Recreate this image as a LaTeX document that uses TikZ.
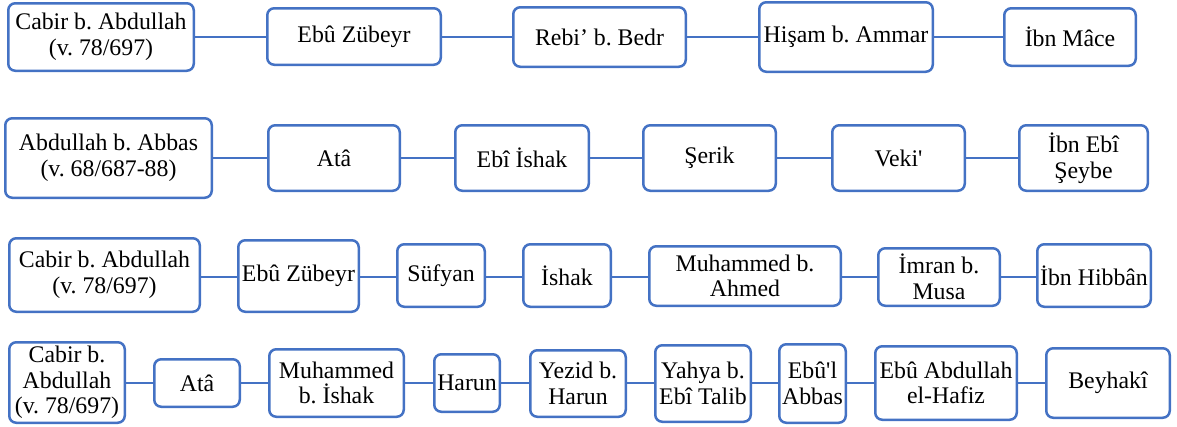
\documentclass[tikz,border=0pt]{standalone}
\usepackage{fontspec}
\setmainfont{Liberation Serif}[Ligatures=TeXOff]
\usetikzlibrary{backgrounds}
\definecolor{boxblue}{RGB}{68,114,196}
\tikzset{
  box/.style={draw=boxblue, line width=2.5pt, rounded corners=7pt, fill=white,
    align=center, inner sep=0pt, font=\fontsize{23.8}{25.5}\selectfont},
  link/.style={draw=boxblue, line width=2.5pt}
}
\newcommand\bx[6]{%
  \node[box, minimum width={(#4-#2-2.5)*1pt}, minimum height={(#5-#3-2.5)*1pt}]
    (#1) at ({(#2+#4)/2},{(#3+#5)/2}) {#6};}
\newcommand\lk[3]{\draw[link] (#1.center |- #3) -- (#2.center |- #3);}
\frenchspacing
\begin{document}
\begin{tikzpicture}[x=1pt,y=-1pt]
\useasboundingbox (0,0) rectangle (1177,426);
\coordinate (r1) at (0,37);
\coordinate (r2) at (0,158);
\coordinate (r3) at (0,277);
\coordinate (r4) at (0,383);
% Row 1
\bx{a1}{7}{2}{195}{72}{Cabir b. Abdullah\\(v. 78/697)}
\bx{b1}{266}{7}{442}{66}{Ebû Zübeyr}
\bx{c1}{512}{6}{687}{68}{Rebi’ b. Bedr}
\bx{d1}{758}{1}{934}{73}{Hişam b. Ammar}
\bx{e1}{1003}{7}{1137}{67}{İbn Mâce}
% Row 2
\bx{a2}{4}{117}{213}{199}{Abdullah b. Abbas\\(v. 68/687-88)}
\bx{b2}{267}{124}{401}{192}{Atâ}
\bx{c2}{454}{124}{590}{192}{Ebî İshak}
\bx{d2}{642}{124}{777}{192}{Şerik}
\bx{e2}{831}{124}{966}{192}{Veki'}
\bx{f2}{1018}{124}{1149}{192}{İbn Ebî\\Şeybe}
% Row 3
\bx{a3}{8}{237}{201}{313}{Cabir b. Abdullah\\(v. 78/697)}
\bx{b3}{237}{239}{360}{313}{Ebû Zübeyr}
\bx{c3}{396}{243}{486}{308}{Süfyan}
\bx{d3}{522}{243}{612}{308}{İshak}
\bx{e3}{648}{245}{842}{307}{Muhammed b.\\Ahmed}
\bx{f3}{877}{247}{1001}{307}{İmran b.\\Musa}
\bx{g3}{1036}{243}{1152}{308}{İbn Hibbân}
% Row 4
\bx{a4}{8}{341}{126}{424}{Cabir b.\\Abdullah\\(v. 78/697)}
\bx{b4}{153}{358}{241}{408}{Atâ}
\bx{c4}{268}{348}{405}{418}{Muhammed\\b. İshak}
\bx{d4}{433}{353}{501}{413}{Harun}
\bx{e4}{529}{349}{627}{418}{Yezid b.\\Harun}
\bx{f4}{654}{344}{752}{423}{Yahya b.\\Ebî Talib}
\bx{g4}{778}{343}{847}{424}{Ebû'l\\Abbas}
\bx{h4}{874}{345}{1018}{421}{Ebû Abdullah\\el-Hafiz}
\bx{i4}{1045}{347}{1171}{419}{Beyhakî}
% connectors
\begin{scope}[on background layer]
\lk{a1}{b1}{r1}\lk{b1}{c1}{r1}\lk{c1}{d1}{r1}\lk{d1}{e1}{r1}
\lk{a2}{b2}{r2}\lk{b2}{c2}{r2}\lk{c2}{d2}{r2}\lk{d2}{e2}{r2}\lk{e2}{f2}{r2}
\lk{a3}{b3}{r3}\lk{b3}{c3}{r3}\lk{c3}{d3}{r3}\lk{d3}{e3}{r3}\lk{e3}{f3}{r3}\lk{f3}{g3}{r3}
\lk{a4}{b4}{r4}\lk{b4}{c4}{r4}\lk{c4}{d4}{r4}\lk{d4}{e4}{r4}\lk{e4}{f4}{r4}\lk{f4}{g4}{r4}\lk{g4}{h4}{r4}\lk{h4}{i4}{r4}
\end{scope}
\end{tikzpicture}
\end{document}
